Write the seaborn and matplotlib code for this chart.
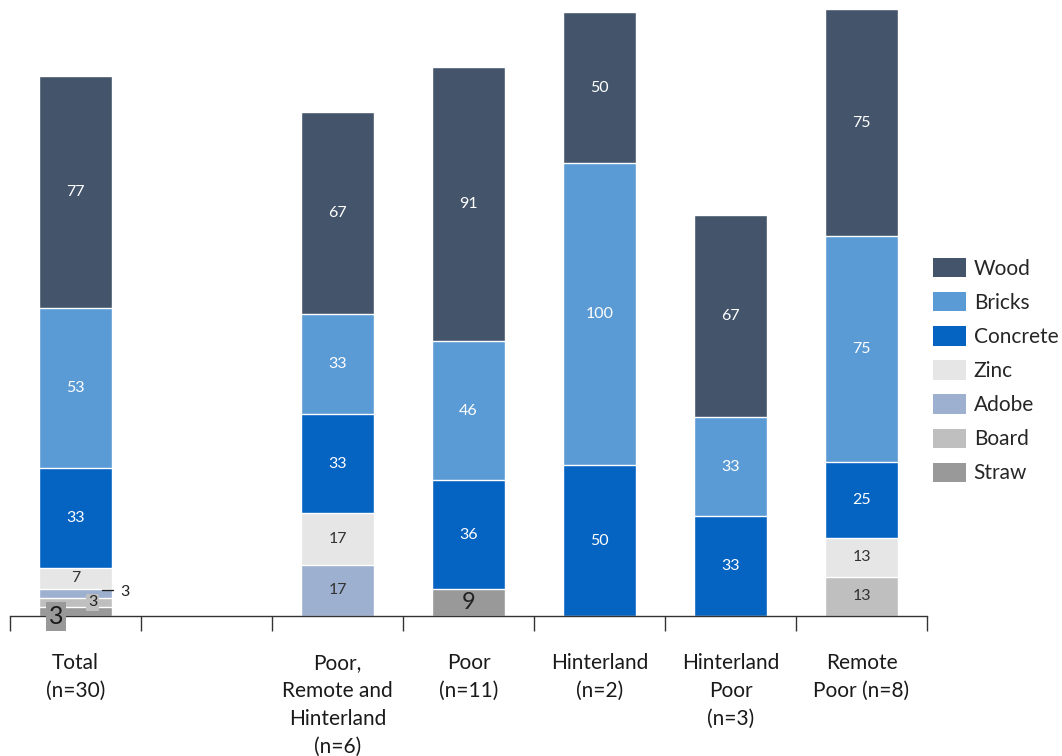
import matplotlib
matplotlib.use("Agg")
import matplotlib.pyplot as plt
from matplotlib.patches import Patch
from matplotlib.ticker import FixedLocator
import numpy as np
import pandas as pd
import seaborn as sns

# Share of households by wall material (%), per area group
groups = ["Total\n(n=30)", " ", "Poor,\nRemote and\nHinterland\n(n=6)", "Poor\n(n=11)",
          "Hinterland\n(n=2)", "Hinterland\nPoor\n(n=3)", "Remote\nPoor (n=8)"]
materials = ["Wood", "Bricks", "Concrete", "Zinc", "Adobe", "Board", "Straw"]

wood     = [77, 0, 67, 91, 50, 67, 75]
bricks   = [53, 0, 33, 46, 100, 33, 75]
concrete = [33, 0, 33, 36, 50, 33, 25]
zinc     = [7, 0, 17, 0, 0, 0, 13]
adobe    = [3, 0, 17, 0, 0, 0, 0]
board    = [3, 0, 0, 0, 0, 0, 13]
straw    = [3, 0, 0, 9, 0, 0, 0]

colors = {
    "Wood": "#44546A",
    "Bricks": "#5B9BD5",
    "Concrete": "#0563C1",
    "Zinc": "#E7E6E6",
    "Adobe": "#9DB0D0",
    "Board": "#BFBFBF",
    "Straw": "#999999",
}
text_colors = {"Wood": "white", "Bricks": "white", "Concrete": "white",
               "Zinc": "#333333", "Adobe": "#333333", "Board": "#333333", "Straw": "#222222"}

df = pd.DataFrame({"group": groups, "Wood": wood, "Bricks": bricks, "Concrete": concrete,
                   "Zinc": zinc, "Adobe": adobe, "Board": board, "Straw": straw})

# Stack order from the bottom up
stack = ["Straw", "Board", "Adobe", "Zinc", "Concrete", "Bricks", "Wood"]
cum = df[stack].cumsum(axis=1)
lower = cum - df[stack]

sns.set_style("white")
plt.rcParams["font.family"] = ["Lato", "DejaVu Sans"]

fig = plt.figure(figsize=(10.62, 7.56), dpi=100)
ax = fig.add_axes([10 / 1062, 140 / 756, 917 / 1062, 615 / 756])

bar_w = 0.55
# Draw cumulative totals from the tallest down so each layer overlays the next
for m in reversed(stack):
    plot_df = pd.DataFrame({"group": groups, "value": cum[m].where(df[m] > 0, np.nan)})
    sns.barplot(data=plot_df, x="group", y="value", order=groups, color=colors[m],
                width=bar_w, edgecolor="white", linewidth=1.0, saturation=1, ax=ax,
                errorbar=None)

ax.set_xlim(-0.5, len(groups) - 0.5)
ax.set_ylim(0, 203.8)
ax.set_xlabel("")
ax.set_ylabel("")
ax.set_yticks([])
for s in ["top", "right", "left"]:
    ax.spines[s].set_visible(False)
ax.spines["bottom"].set_color("#333333")
ax.spines["bottom"].set_linewidth(1.0)

ax.set_xticks(range(len(groups)))
ax.set_xticklabels(groups, fontsize=15, color="#1a1a1a", linespacing=1.5, va="top")
ax.tick_params(axis="x", which="major", bottom=False, length=0, pad=26.5)
ax.xaxis.set_minor_locator(FixedLocator(np.arange(-0.5, len(groups), 1.0)))
ax.tick_params(axis="x", which="minor", bottom=True, length=11, width=1.0,
               color="#333333", direction="out")

# Value labels in the middle of each segment
special = {(0, "Straw"), (0, "Board"), (0, "Adobe"), (3, "Straw")}
for i in range(len(groups)):
    for m in stack:
        v = df.loc[i, m]
        if v <= 0 or (i, m) in special:
            continue
        y = lower.loc[i, m] + v / 2
        ax.text(i, y, f"{v:g}", ha="center", va="center", fontsize=11.5, color=text_colors[m])

# Small segments at the bottom of the Total bar
ax.text(-0.15, straw[0] / 2 - 1.8, f"{straw[0]}", ha="center", va="center", fontsize=18,
        color="#1a1a1a",
        bbox=dict(boxstyle="square,pad=0.12", fc=colors["Straw"], ec="none"))
ax.text(0.13, lower.loc[0, "Board"] + board[0] / 2, f"{board[0]}", ha="center", va="center",
        fontsize=11.5, color="#222222",
        bbox=dict(boxstyle="square,pad=0.1", fc=colors["Board"], ec="none"))
y_ad = lower.loc[0, "Adobe"] + adobe[0] / 2 + 1.0
ax.plot([0.2, 0.29], [y_ad, y_ad], color="#222222", lw=1.0)
ax.text(0.34, y_ad - 0.5, f"{adobe[0]}", ha="left", va="center", fontsize=11.5, color="#222222")
# Straw segment of the Poor bar
ax.text(3, straw[3] / 2, f"{straw[3]}", ha="center", va="center", fontsize=17, color="#222222")

handles = [Patch(facecolor=colors[m], edgecolor="none", label=m) for m in materials]
fig.legend(handles=handles, loc="upper left", bbox_to_anchor=(933 / 1062, 1 - 258 / 756),
           frameon=False, fontsize=15, handlelength=1.6, handleheight=1.05,
           handletextpad=0.35, labelspacing=0.64, borderpad=0, borderaxespad=0)

fig.savefig("out.png", dpi=100, facecolor="white")
